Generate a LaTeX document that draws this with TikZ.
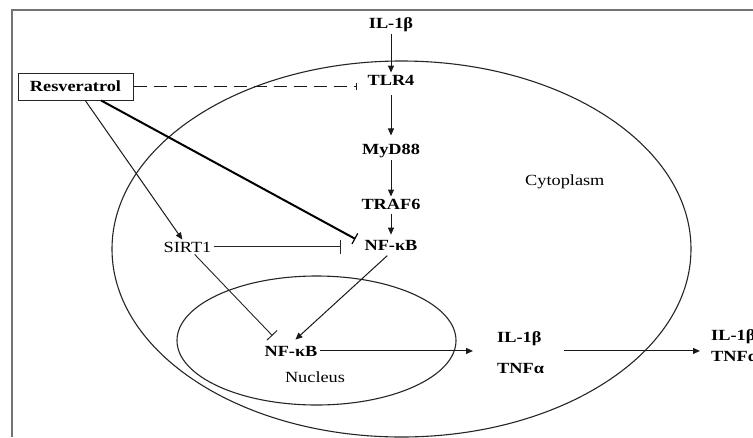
\documentclass[tikz,border=0pt]{standalone}
\usepackage{fontspec}
\setmainfont{Liberation Serif}[FakeStretch=1.18]
\usetikzlibrary{arrows.meta,calc}
\begin{document}
\begin{tikzpicture}[x=1pt,y=-1pt,
  lbl/.style={font=\fontsize{15.5}{18}\selectfont\bfseries, inner sep=2pt, anchor=base},
  lblr/.style={font=\fontsize{15.5}{18}\selectfont, inner sep=2pt, anchor=base},
  arr/.style={draw=black!90, line width=1pt, -{Triangle[length=7pt,width=6pt]}},
  inh/.style={draw=black!85, line width=0.9pt, -{Bar[width=14pt,line width=1pt]}},
  inhthick/.style={draw=black, line width=2pt, -{Bar[width=12pt,line width=1.2pt]}},
  inhdash/.style={draw=black!90, line width=1.8pt, dash pattern=on 13pt off 7pt, -{Bar[width=7pt,line width=0.7pt]}},
  membrane/.style={draw=black!85, line width=1.1pt},
  boxstyle/.style={draw=black!85, line width=1pt, fill=white, minimum width=115pt, minimum height=27pt, inner sep=0pt, font=\fontsize{15.5}{18}\selectfont\bfseries}
]
\useasboundingbox (0,0) rectangle (753,437);
\fill[white] (0,0) rectangle (753,437);
% frame
\draw[black!55, line width=1.5pt] (12,437) -- (12,10) -- (753,10);
% compartments
\draw[membrane] (401.5,249) ellipse [x radius=289.5pt, y radius=188pt];
\draw[membrane] (316.5,340.5) ellipse [x radius=139.5pt, y radius=64.5pt];

% nodes
\node[lbl] (il1) at (391,28) {IL-1β};
\node[lbl] (tlr4) at (391,85) {TLR4};
\node[lbl] (myd88) at (391,154) {MyD88};
\node[lbl] (traf6) at (391,209) {TRAF6};
\node[lbl] (nfkb1) at (391,250) {NF-κB};
\node[boxstyle] (res) at (75.5,86.5) {Resveratrol};
\node[lblr] (sirt1) at (187.5,252) {SIRT1};
\node[lbl] (nfkb2) at (291,356) {NF-κB};
\node[lblr] (nucleus) at (315,382) {Nucleus};
\node[lblr, anchor=base west] (cyto) at (523,185) {Cytoplasm};
\node[lbl, anchor=base west] (il1b2) at (495,342) {IL-1β};
\node[lbl, anchor=base west] (tnfa2) at (495,373) {TNFα};
\node[lbl, anchor=base west] (il1b3) at (709,340) {IL-1β};
\node[lbl, anchor=base west] (tnfa3) at (709,361) {TNFα};

% signalling column
\draw[arr] (il1) -- (tlr4);
\draw[arr, shorten <=8pt, shorten >=6pt] (tlr4) -- (myd88);
\draw[arr] (myd88) -- (traf6);
\draw[arr, shorten <=3pt, shorten >=3pt] (traf6) -- (nfkb1);

% resveratrol effects
\draw[inhdash, shorten >=9pt] (res.east) -- (res.east -| tlr4.west);
\draw[arr] (res) -- (sirt1);
\draw[inhthick] (res) -- ($(nfkb1.west)+(-7,-6)$);

% SIRT1 effects
\draw[inh, shorten >=21pt] (sirt1.east) -- (sirt1.east -| nfkb1.west);
\draw[inh] (sirt1) -- ($(nfkb2.north west)+(10,-8)$);

% translocation and output
\draw[arr, shorten <=5pt, shorten >=6pt] (nfkb1.south) -- (nfkb2.north);
\draw[arr, shorten >=22pt] (nfkb2.east) -- (nfkb2.east -| il1b2.west);
\draw[arr, shorten <=18pt, shorten >=9pt] (nfkb2.east -| tnfa2.east) -- (nfkb2.east -| il1b3.west);
\end{tikzpicture}
\end{document}
